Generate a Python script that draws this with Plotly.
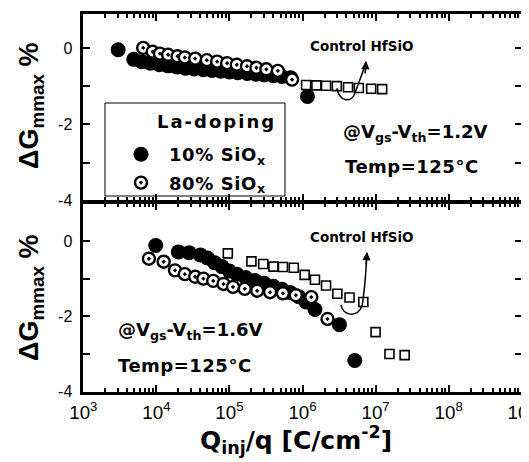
import plotly.graph_objects as go

# ---------------- data ----------------
# top panel (@Vgs-Vth = 1.2 V)
top_q_10 = [3.0e3, 4.9e3, 6.3e3, 8.3e3, 1.1e4, 1.45e4, 1.9e4, 2.5e4, 3.3e4, 4.4e4, 5.75e4,
            7.6e4, 1.0e5, 1.3e5, 1.75e5, 2.3e5, 3.0e5, 4.0e5, 5.25e5, 6.9e5, 1.17e6]
top_g_10 = [-0.05, -0.30, -0.36, -0.40, -0.44, -0.47, -0.50, -0.53, -0.55, -0.57, -0.59,
            -0.61, -0.63, -0.65, -0.67, -0.69, -0.71, -0.73, -0.75, -0.78, -1.27]
top_q_80 = [6.6e3, 8.9e3, 1.12e4, 1.45e4, 1.95e4, 2.45e4, 3.4e4, 4.9e4, 6.8e4, 9.3e4,
            1.26e5, 1.74e5, 2.34e5, 3.2e5, 4.6e5, 7.2e5]
top_g_80 = [0.0, -0.10, -0.15, -0.18, -0.22, -0.25, -0.28, -0.32, -0.36, -0.40,
            -0.44, -0.48, -0.52, -0.56, -0.60, -0.83]
top_q_ctl = [1.12e6, 1.55e6, 2.1e6, 2.95e6, 4.2e6, 5.9e6, 8.7e6, 1.23e7]
top_g_ctl = [-0.97, -0.98, -0.99, -1.00, -1.03, -1.05, -1.07, -1.08]

# bottom panel (@Vgs-Vth = 1.6 V)
bot_q_10 = [9.8e3, 2.0e4, 2.8e4, 4.0e4, 5.0e4, 6.3e4, 7.9e4, 1.0e5, 1.26e5, 1.66e5, 2.24e5,
            3.0e5, 4.0e5, 5.25e5, 6.8e5, 8.9e5, 1.12e6, 1.48e6, 3.2e6, 5.2e6]
bot_g_10 = [-0.12, -0.29, -0.31, -0.37, -0.45, -0.58, -0.68, -0.80, -0.88, -0.97, -1.05,
            -1.12, -1.20, -1.28, -1.37, -1.48, -1.62, -1.82, -2.22, -3.17]
bot_q_80 = [7.9e3, 1.26e4, 1.8e4, 2.45e4, 3.4e4, 4.4e4, 6.0e4, 8.3e4, 1.12e5, 1.62e5,
            2.4e5, 3.6e5, 5.4e5, 8.1e5, 1.32e6, 2.2e6]
bot_g_80 = [-0.47, -0.55, -0.78, -0.88, -0.95, -1.00, -1.06, -1.14, -1.22, -1.27,
            -1.32, -1.36, -1.39, -1.44, -1.49, -2.07]
bot_q_ctl = [9.5e4, 2.0e5, 2.9e5, 4.0e5, 5.4e5, 7.6e5, 1.07e6, 1.48e6, 2.1e6, 3.0e6,
             4.4e6, 6.8e6, 1.0e7, 1.55e7, 2.5e7]
bot_g_ctl = [-0.33, -0.54, -0.61, -0.68, -0.69, -0.71, -0.90, -1.03, -1.18, -1.40,
             -1.50, -1.62, -2.42, -3.00, -3.03]

y_tickvals = [0, -2, -4]
y_ticktext = ["0", "-2", "-4"]
legend_names = ['<b><span style="letter-spacing:0.6px">10% SiO</span><sub>x</sub></b>',
                '<b><span style="letter-spacing:0.6px">80% SiO</span><sub>x</sub></b>']

# ---------------- layout geometry ----------------
# the page body adds an 8 px offset, so the figure is 8 px smaller and
# all positions below are given in window pixels
OFF = 8
W, H = 529 - OFF, 462 - OFF
PLOT_L, PLOT_R, PLOT_T, PLOT_B = 82, 523, 13, 393
ML, MR = PLOT_L - OFF, W + OFF - PLOT_R
MT, MB = PLOT_T - OFF, H + OFF - PLOT_B
PW, PH = PLOT_R - PLOT_L, PLOT_B - PLOT_T
LW = 2.6
MID = 202


def px(x):
    return (x - PLOT_L) / PW


def py(y):
    return (PLOT_B - y) / PH


TXT = "DejaVu Sans"
TICKF = dict(family="Liberation Sans", size=15, color="black")

fig = go.Figure()

filled = dict(symbol="circle", size=15, color="black", line=dict(width=0))
hollow = dict(symbol="circle-dot", size=12, color="white", line=dict(width=2.4, color="black"))
square = dict(symbol="square", size=9, color="white", line=dict(width=1.6, color="black"))

fig.add_trace(go.Scatter(x=top_q_10, y=top_g_10, mode="markers", marker=filled,
                         name=legend_names[0], legendgroup="a", xaxis="x", yaxis="y"))
fig.add_trace(go.Scatter(x=top_q_80, y=top_g_80, mode="markers", marker=hollow,
                         name=legend_names[1], legendgroup="b", xaxis="x", yaxis="y"))
fig.add_trace(go.Scatter(x=top_q_ctl, y=top_g_ctl, mode="markers", marker=square,
                         showlegend=False, xaxis="x", yaxis="y"))
fig.add_trace(go.Scatter(x=bot_q_10, y=bot_g_10, mode="markers", marker=filled,
                         showlegend=False, xaxis="x2", yaxis="y2"))
fig.add_trace(go.Scatter(x=bot_q_80, y=bot_g_80, mode="markers", marker=hollow,
                         showlegend=False, xaxis="x2", yaxis="y2"))
fig.add_trace(go.Scatter(x=bot_q_ctl, y=bot_g_ctl, mode="markers", marker=square,
                         showlegend=False, xaxis="x2", yaxis="y2"))

xcommon = dict(type="log", range=[3, 9], dtick=1, showline=True, linewidth=LW,
               linecolor="black", mirror="allticks", ticks="inside", ticklen=7,
               tickwidth=2, tickcolor="black", showgrid=False, zeroline=False,
               automargin=False,
               minor=dict(ticks="inside", ticklen=3.5, tickwidth=1.5, tickcolor="black",
                          dtick="D1", showgrid=False))
ycommon = dict(tickmode="array", tickvals=y_tickvals, ticktext=y_ticktext,
               showline=True, linewidth=LW, linecolor="black", mirror="allticks",
               ticks="inside", ticklen=7, tickwidth=2, tickcolor="black",
               showgrid=False, zeroline=False, automargin=False,
               tickfont=dict(family="Liberation Sans", size=16, color="black"),
               ticklabelstandoff=5,
               minor=dict(tickmode="linear", tick0=0, dtick=1, ticks="inside", ticklen=7,
                          tickwidth=2, tickcolor="black", showgrid=False))

half = LW / 2
fig.update_layout(
    width=W, height=H, margin=dict(l=ML, r=MR, t=MT, b=MB),
    paper_bgcolor="white", plot_bgcolor="white",
    xaxis=dict(xcommon, domain=[px(PLOT_L + half), px(PLOT_R - half)], anchor="y",
               showticklabels=False),
    yaxis=dict(ycommon, domain=[py(MID - half), py(PLOT_T + half)], range=[-4, 0.88],
               anchor="x"),
    xaxis2=dict(xcommon, domain=[px(PLOT_L + half), px(PLOT_R - half)], anchor="y2",
                showticklabels=True, exponentformat="power", tickfont=TICKF,
                ticklabelstandoff=3, ticklabeloverflow="allow"),
    yaxis2=dict(ycommon, domain=[py(PLOT_B - half), py(MID + half)], range=[-4, 1],
                anchor="x2"),
    showlegend=True,
    legend=dict(x=px(113), y=py(136), xanchor="left", yanchor="top",
                borderwidth=0, bgcolor="rgba(0,0,0,0)",
                font=dict(family=TXT, size=18, color="black"),
                itemwidth=46, tracegroupgap=2, itemsizing="trace"),
)

# legend frame
fig.add_shape(type="rect", xref="paper", yref="paper", x0=px(105), x1=px(285),
              y0=py(196), y1=py(103), line=dict(color="black", width=1),
              fillcolor="white", layer="below")

annots = []


def text(x, y, s, size, anchor="left"):
    annots.append(dict(x=px(x), y=py(y), xref="paper", yref="paper", text=s,
                       showarrow=False, xanchor=anchor, yanchor="middle",
                       font=dict(family=TXT, size=size, color="black")))


text(216, 121, '<b><span style="letter-spacing:2px">La-doping</span></b>', 18, "center")
text(362, 46, "<b>Control HfSiO</b>", 13.5, "center")
text(362, 237, "<b>Control HfSiO</b>", 13.5, "center")
text(341, 133, "<b>@V<sub>gs</sub>-V<sub>th</sub>=1.2V</b>", 18)
text(343, 166, '<b><span style="letter-spacing:0.5px">Temp=125°C</span></b>', 18)
text(116, 331, "<b>@V<sub>gs</sub>-V<sub>th</sub>=1.6V</b>", 18)
text(116, 365, '<b><span style="letter-spacing:0.5px">Temp=125°C</span></b>', 18)

# axis titles
annots.append(dict(x=px(296), y=py(440), xref="paper", yref="paper",
                   text="<b>Q<sub>inj</sub>/q [C/cm<sup>-2</sup>]</b>", showarrow=False,
                   xanchor="center", yanchor="middle",
                   font=dict(family=TXT, size=25, color="black")))
for yc in (106, 298):
    annots.append(dict(x=px(31), y=py(yc), xref="paper", yref="paper",
                       text="<b>ΔG<sub>mmax</sub> %</b>", showarrow=False, textangle=-90,
                       xanchor="center", yanchor="middle",
                       font=dict(family="Liberation Sans", size=27, color="black")))

# arrow heads
for tip in ((366, 61), (367, 252)):
    annots.append(dict(x=px(tip[0]), y=py(tip[1]), xref="paper", yref="paper", text="",
                       showarrow=True, ax=-1, ay=14, arrowhead=2, arrowsize=1.1,
                       arrowwidth=1.5, arrowcolor="black"))
fig.update_layout(annotations=annots)


def path(pts):
    s = "M %.4f,%.4f" % (px(pts[0][0]), py(pts[0][1]))
    for i in range(1, len(pts), 3):
        s += " C " + " ".join("%.4f,%.4f" % (px(a), py(b)) for a, b in pts[i:i + 3])
    return s


curves = [
    [(337, 88), (339, 101), (351, 104), (355, 93), (359, 82), (363, 72), (366, 62)],
    [(341, 305), (343, 316), (357, 318), (362, 306), (365, 290), (366, 270), (367, 253)],
]
for c in curves:
    fig.add_shape(type="path", path=path(c), xref="paper", yref="paper",
                  line=dict(color="black", width=1.5))

fig.write_html("out.html")
